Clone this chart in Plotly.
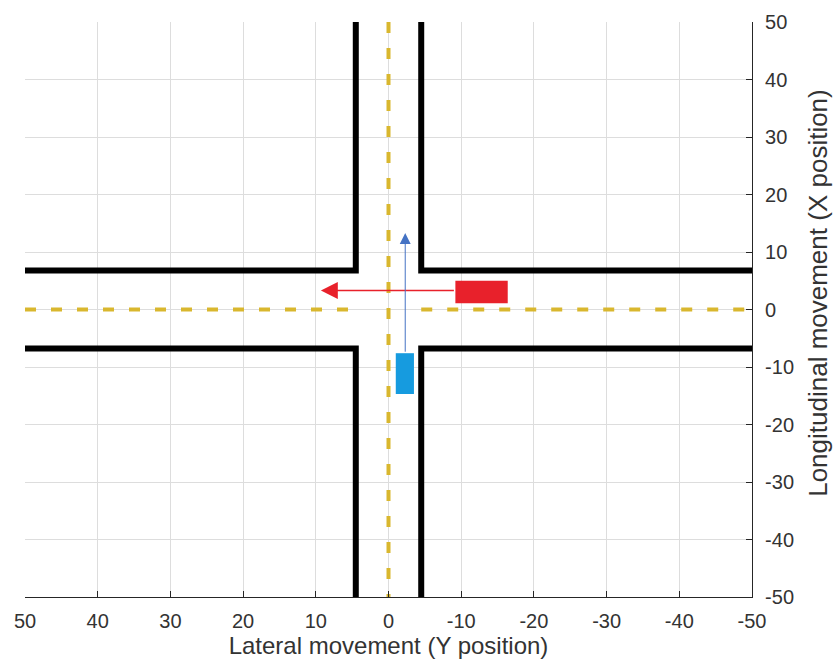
import plotly.graph_objects as go

# Axis ticks
x_ticks = [50, 40, 30, 20, 10, 0, -10, -20, -30, -40, -50]
y_ticks = [50, 40, 30, 20, 10, 0, -10, -20, -30, -40, -50]

# Road geometry (data units)
road_half_lat = 4.5     # vertical road half width (lateral)
road_half_lon = 6.8     # horizontal road half width (longitudinal)
road_extent = 50

# Vehicles: [lat_min, lat_max, lon_min, lon_max]
red_car = [-16.4, -9.2, 1.1, 5.0]
blue_car = [-3.5, -1.0, -14.7, -7.6]

# Motion arrows: start (lat, lon) -> end (lat, lon)
red_arrow_start = [-9.2, 3.3]
red_arrow_end = [9.3, 3.3]
blue_arrow_start = [-2.3, -7.6]
blue_arrow_end = [-2.3, 13.3]

fig = go.Figure()

road_color = "black"
center_color = "#D9B72E"

a, b, E = road_half_lat, road_half_lon, road_extent
edges = [
    ([a, a, E], [E, b, b]),
    ([-a, -a, -E], [E, b, b]),
    ([a, a, E], [-E, -b, -b]),
    ([-a, -a, -E], [-E, -b, -b]),
]
for xs, ys in edges:
    fig.add_trace(go.Scatter(x=xs, y=ys, mode="lines",
                             line=dict(color=road_color, width=6),
                             hoverinfo="skip", showlegend=False))

# Center lines
dash = "11px,15px"
fig.add_trace(go.Scatter(x=[0, 0], y=[E, -E], mode="lines",
                         line=dict(color=center_color, width=4, dash=dash),
                         showlegend=False, hoverinfo="skip"))
fig.add_trace(go.Scatter(x=[E, a], y=[0, 0], mode="lines",
                         line=dict(color=center_color, width=4, dash=dash),
                         showlegend=False, hoverinfo="skip"))
fig.add_trace(go.Scatter(x=[-a, -E], y=[0, 0], mode="lines",
                         line=dict(color=center_color, width=4, dash=dash),
                         showlegend=False, hoverinfo="skip"))

# Cars
fig.add_shape(type="rect", x0=red_car[0], x1=red_car[1], y0=red_car[2], y1=red_car[3],
              xref="x", yref="y", fillcolor="#E8212B", line=dict(width=0))
fig.add_shape(type="rect", x0=blue_car[0], x1=blue_car[1], y0=blue_car[2], y1=blue_car[3],
              xref="x", yref="y", fillcolor="#169BDF", line=dict(width=0))

# Arrows
fig.add_annotation(x=red_arrow_end[0], y=red_arrow_end[1],
                   ax=red_arrow_start[0], ay=red_arrow_start[1],
                   xref="x", yref="y", axref="x", ayref="y", text="",
                   showarrow=True, arrowhead=2, arrowsize=2.6, arrowwidth=1.3,
                   arrowcolor="#E8212B")
fig.add_annotation(x=blue_arrow_end[0], y=blue_arrow_end[1],
                   ax=blue_arrow_start[0], ay=blue_arrow_start[1],
                   xref="x", yref="y", axref="x", ayref="y", text="",
                   showarrow=True, arrowhead=2, arrowsize=2.2, arrowwidth=1.0,
                   arrowcolor="#4472C4")

# Y axis title placed as an annotation (right side, rotated)
fig.add_annotation(text="Longitudinal movement (X position)", textangle=-90,
                   xref="paper", yref="paper", x=1, y=0.529, xshift=66,
                   xanchor="center", yanchor="middle", showarrow=False,
                   font=dict(size=26, color="#333333"))

font_family = "Liberation Sans, Arial, sans-serif"
fig.update_layout(
    width=835, height=666,
    margin=dict(l=25, r=83, t=22, b=69),
    plot_bgcolor="white", paper_bgcolor="white",
    font=dict(family=font_family, size=20, color="#333333"),
    xaxis=dict(range=[50, -50], tickvals=x_ticks, ticktext=[str(v) for v in x_ticks],
               showgrid=True, gridcolor="#DDDDDD", gridwidth=1, zeroline=False,
               showline=True, linecolor="#262626", linewidth=1.2,
               ticks="inside", ticklen=6, tickcolor="#262626",
               ticklabelstandoff=6, tickfont=dict(size=20),
               title=dict(text="Lateral movement (Y position)", font=dict(size=24), standoff=4)),
    yaxis=dict(range=[-50, 50], tickvals=y_ticks, ticktext=[str(v) for v in y_ticks],
               side="right", showgrid=True, gridcolor="#DDDDDD", gridwidth=1, zeroline=False,
               showline=True, linecolor="#262626", linewidth=1.2,
               ticks="inside", ticklen=6, tickcolor="#262626",
               ticklabelstandoff=8, tickfont=dict(size=20)),
)

fig.write_html("out.html")
